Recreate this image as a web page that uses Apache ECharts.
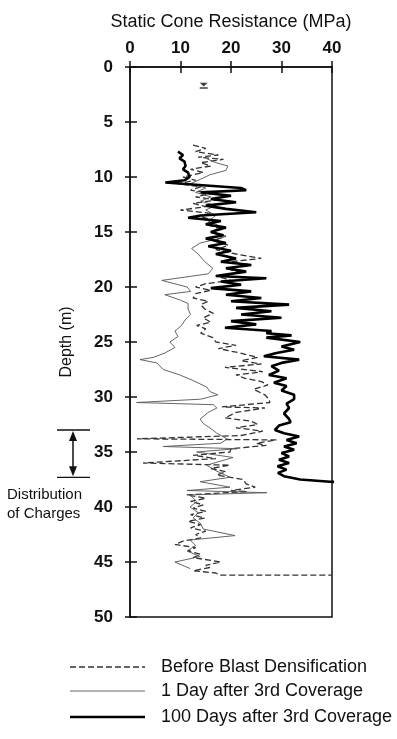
<!DOCTYPE html>
<html><head><meta charset="utf-8">
<script src="https://cdn.jsdelivr.net/npm/echarts@6/dist/echarts.min.js"></script>
<style>html,body{margin:0;padding:0;background:#fff}#c{width:397px;height:739px}</style>
</head><body><div id="c"></div>
<script>
// [depth (m), static cone resistance (MPa)]
const beforeBlast = [
[7.1,12.5],[7.4,15],[7.7,13],[8.0,17.5],[8.2,13.5],[8.4,18.5],[8.7,14],[9.0,16],[9.3,12],[9.6,14.5],
[10.0,10.5],[10.3,13],[10.6,9.5],[10.9,14],[11.2,12],[11.5,16],[11.8,13],[12.1,17],[12.4,12.5],[12.7,15],
[13.0,10],[13.3,16],[13.6,14],[14.0,17],[14.3,15],[14.7,18],[15.0,16],[15.4,19],[15.8,16.5],[16.2,19.5],
[16.6,17],[17.0,21],[17.4,26],[17.7,20],[18.0,24],[18.3,19],[18.7,22],[19.0,17],[19.4,20],[19.7,15],
[20.0,13],[20.3,16],[20.6,13],[21.0,12.5],[21.3,15.5],[21.6,14],[22.0,14.8],[22.4,16.5],[22.8,14.5],[23.2,16],
[23.5,13.2],[23.8,15],[24.2,14],[24.6,16.4],[25.0,17],[25.3,21],[25.6,17.5],[26.0,21.8],[26.4,25.3],[26.7,22],
[27.0,26],[27.3,18.8],[27.7,26.3],[28.0,21],[28.3,22.8],[28.6,26],[28.9,27.3],[29.3,24.5],[29.8,26.7],[30.2,27.5],
[30.5,27.7],[30.9,18.2],[31.0,26.7],[31.4,21],[31.9,18.8],[32.2,24],[32.5,25.3],[32.8,21],[33.1,26.3],[33.5,22],
[33.8,1.4],[33.9,29],[34.2,25],[34.4,27],[34.7,20],[35.0,19.8],[35.3,12.5],[35.6,17],[36.0,2.6],[36.2,19.8],
[36.5,16],[36.8,19],[37.1,17.2],[37.5,22.4],[37.9,23],[38.2,24.8],[38.5,20],[38.6,23.2],[38.9,11.2],[39.2,15],
[39.5,12],[39.8,14.5],[40.1,12.5],[40.4,15],[40.7,12],[41.0,14.8],[41.3,11.5],[41.6,14],[41.9,12],[42.2,15],
[42.5,13],[42.8,14],[43.1,10.5],[43.4,8.9],[43.7,13],[44.0,11.5],[44.3,14],[44.6,12.5],[45.0,18],[45.3,15],
[45.5,15.8],[45.8,12.5],[46.0,17],[46.2,17.8],[46.2,40]
];
const oneDay = [
[8.3,15],[8.7,17],[9.0,19.4],[9.4,19],[9.8,15.8],[10.2,14],[10.6,12],[11.0,15],[11.4,13],[11.8,16],
[12.2,14],[12.6,17],[13.0,15],[13.5,17],[14.0,15.5],[14.5,18],[15.0,16],[15.5,18.5],[16.0,13.9],[16.5,12.2],
[17.0,13.5],[17.7,14.8],[18.3,16.4],[18.8,15.5],[19.4,6.3],[20.0,11.3],[20.4,12],[20.7,6.9],[21.2,10],[21.5,11.5],
[22.0,11.5],[22.5,12],[23.0,10.9],[23.5,10.2],[24.0,8.9],[24.5,9.5],[25.0,7.9],[25.5,8.9],[26.0,6.9],[26.4,4.6],
[26.6,2],[26.9,5.3],[27.5,6.6],[28.0,9.9],[28.5,12.5],[29.1,15.2],[29.5,15.8],[29.8,17.4],[30.2,14],[30.5,1.3],
[30.7,16.5],[31.0,17.2],[31.4,15.5],[32.0,13.9],[32.4,14.5],[33.0,16.4],[33.3,17.2],[33.8,19.2],[34.2,18],[34.5,6.6],
[34.7,21.2],[35.0,13.2],[35.5,20.4],[36.2,15.2],[36.7,17],[37.3,19.8],[37.7,13.9],[38.2,19.8],[38.5,11.3],[38.7,27.1],
[38.9,11.9],[39.5,13.2],[40.0,11.9],[40.5,13.5],[41.0,12.5],[41.5,14],[42.0,14.5],[42.6,20.8],[43.0,11.9],[43.5,13],
[44.0,11.3],[44.5,13.9],[45.0,8.9],[45.6,11.9]
];
const hundredDays = [
[7.7,9.5],[8.0,10.5],[8.3,9.8],[8.6,10.8],[9.0,11],[9.3,10.5],[9.6,11.5],[10.0,11.8],[10.3,10.8],[10.5,7],
[10.7,13],[11.0,22],[11.2,23],[11.4,14],[11.7,20],[12.0,16],[12.3,21],[12.6,15],[12.9,19],[13.2,25],
[13.5,14],[13.7,11.5],[14.0,18],[14.3,15],[14.6,19],[15.0,16],[15.3,18.5],[15.6,15],[16.0,19],[16.3,15.5],
[16.7,20],[17.0,17],[17.4,21],[17.7,18],[18.0,24],[18.3,19],[18.6,23],[19.0,17],[19.2,27],[19.5,18],
[19.8,22],[20.1,16],[20.4,24],[20.7,19],[21.0,26],[21.3,20],[21.6,31.5],[21.9,21],[22.2,28],[22.5,22],
[22.8,30],[23.1,20],[23.4,25],[23.7,18.8],[24.0,28],[24.2,27],[24.4,32],[24.6,27],[25.0,33.7],[25.4,30],
[25.7,32.5],[26.0,29],[26.3,26.5],[26.6,33.5],[26.9,30],[27.2,28],[27.6,29.5],[28.0,27.5],[28.3,31],[28.7,28.5],
[29.0,31],[29.4,30],[29.8,32.5],[30.2,32.5],[30.6,31],[31.0,31.5],[31.5,30.5],[32.0,31.5],[32.3,31.8],[32.6,29.5],
[33.0,28.7],[33.3,30.5],[33.6,33.5],[33.9,31],[34.2,33],[34.5,30.5],[34.8,32.5],[35.1,30],[35.4,31.5],[35.7,29.5],
[36.0,31.5],[36.3,29.2],[36.6,31],[36.9,29.3],[37.2,30.5],[37.5,33.7],[37.7,39.6],[37.9,47.5],[38.0,49]
];
const waterTable = [[1.7,14.6]];
const xTicks = {min:0, max:40, interval:10};
const yTicks = {min:0, max:50, interval:5};
const seriesNames = ['Before Blast Densification','1 Day after 3rd Coverage','100 Days after 3rd Coverage'];
const chargeZone = [33, 37.3];

const FONT = 'Liberation Sans';
const toXY = arr => arr.map(p => [p[1], p[0]]);
const chart = echarts.init(document.getElementById('c'), null, {renderer:'canvas'});
const grid = {left:130, top:67, width:202, height:550};
const styles = [
  {color:'#333', width:1.3, type:[6,3]},
  {color:'#555', width:0.9, type:'solid'},
  {color:'#000', width:2.6, type:'solid'}
];
const tickStyle = {color:'#111', width:1.5};
chart.setOption({
  animation:false,
  textStyle:{fontFamily:FONT},
  grid:Object.assign({show:true, borderColor:'#111', borderWidth:1.5, backgroundColor:'transparent'}, grid),
  xAxis:[{
    type:'value', position:'top', min:xTicks.min, max:xTicks.max, interval:xTicks.interval,
    name:'Static Cone Resistance (MPa)', nameLocation:'middle', nameGap:36,
    nameTextStyle:{fontSize:18, color:'#111', fontFamily:FONT},
    axisLine:{show:true, lineStyle:{color:'#111', width:1.5}},
    axisTick:{show:true, inside:true, length:6, lineStyle:tickStyle},
    axisLabel:{fontSize:17, fontWeight:'bold', color:'#111', margin:10, fontFamily:FONT},
    splitLine:{show:false}
  },{
    type:'value', position:'top', min:xTicks.min, max:xTicks.max, interval:xTicks.interval,
    axisLine:{show:false}, axisLabel:{show:false},
    axisTick:{show:true, inside:false, length:6, lineStyle:tickStyle},
    splitLine:{show:false}
  }],
  yAxis:[{
    type:'value', inverse:true, min:yTicks.min, max:yTicks.max, interval:yTicks.interval,
    name:'Depth (m)', nameLocation:'middle', nameGap:55, nameRotate:90,
    nameTextStyle:{fontSize:16, color:'#111', fontFamily:FONT},
    axisLine:{show:true, lineStyle:{color:'#111', width:1.5}},
    axisTick:{show:true, inside:false, length:5, lineStyle:tickStyle},
    axisLabel:{fontSize:17, fontWeight:'bold', color:'#111', margin:17, fontFamily:FONT},
    splitLine:{show:false}
  },{
    type:'value', inverse:true, position:'left', min:yTicks.min, max:yTicks.max, interval:yTicks.interval,
    axisLine:{show:false}, axisLabel:{show:false},
    axisTick:{show:true, inside:true, length:7, lineStyle:tickStyle},
    splitLine:{show:false}
  }],
  series:[
    {name:seriesNames[0], type:'line', data:toXY(beforeBlast), showSymbol:false, symbol:'none',
     lineStyle:styles[0], z:2},
    {name:seriesNames[1], type:'line', data:toXY(oneDay), showSymbol:false, symbol:'none',
     lineStyle:styles[1], z:3},
    {name:seriesNames[2], type:'line', data:toXY(hundredDays), showSymbol:false, symbol:'none', clip:false,
     lineStyle:styles[2], z:4},
    {type:'scatter', data:toXY(waterTable), symbol:'path://M0,0 L10,0 L5,5 Z M0,6 L10,6 L10,8 L0,8 Z', symbolSize:[8,6],
     itemStyle:{color:'#111'}, silent:true}
  ]
});
const yA = chart.convertToPixel({yAxisIndex:0}, chargeZone[0]);
const yB = chart.convertToPixel({yAxisIndex:0}, chargeZone[1]);
const ax = 73;
const legendRows = [667, 691, 717];
const g = [
  {type:'line', shape:{x1:57,y1:yA,x2:90,y2:yA}, style:{stroke:'#111', lineWidth:1.3}},
  {type:'line', shape:{x1:57,y1:yB,x2:90,y2:yB}, style:{stroke:'#111', lineWidth:1.3}},
  {type:'line', shape:{x1:ax,y1:yA+8,x2:ax,y2:yB-8}, style:{stroke:'#111', lineWidth:1.5}},
  {type:'polygon', shape:{points:[[ax,yA+1],[ax-4,yA+11],[ax+4,yA+11]]}, style:{fill:'#111'}},
  {type:'polygon', shape:{points:[[ax,yB-1],[ax-4,yB-11],[ax+4,yB-11]]}, style:{fill:'#111'}},
  {type:'text', left:7, top:yB+8, style:{text:'Distribution\nof Charges', fontSize:15, lineHeight:19, fill:'#111', fontFamily:FONT}}
];
seriesNames.forEach((n,i)=>{
  const s = styles[i];
  g.push({type:'line', shape:{x1:70,y1:legendRows[i],x2:145,y2:legendRows[i]},
    style:{stroke:s.color, lineWidth:s.width, lineDash:Array.isArray(s.type)?s.type:null}});
  g.push({type:'text', x:161, y:legendRows[i], style:{text:n, fontSize:18, fill:'#111', fontFamily:FONT, verticalAlign:'middle'}});
});
chart.setOption({graphic:g});
</script></body></html>
